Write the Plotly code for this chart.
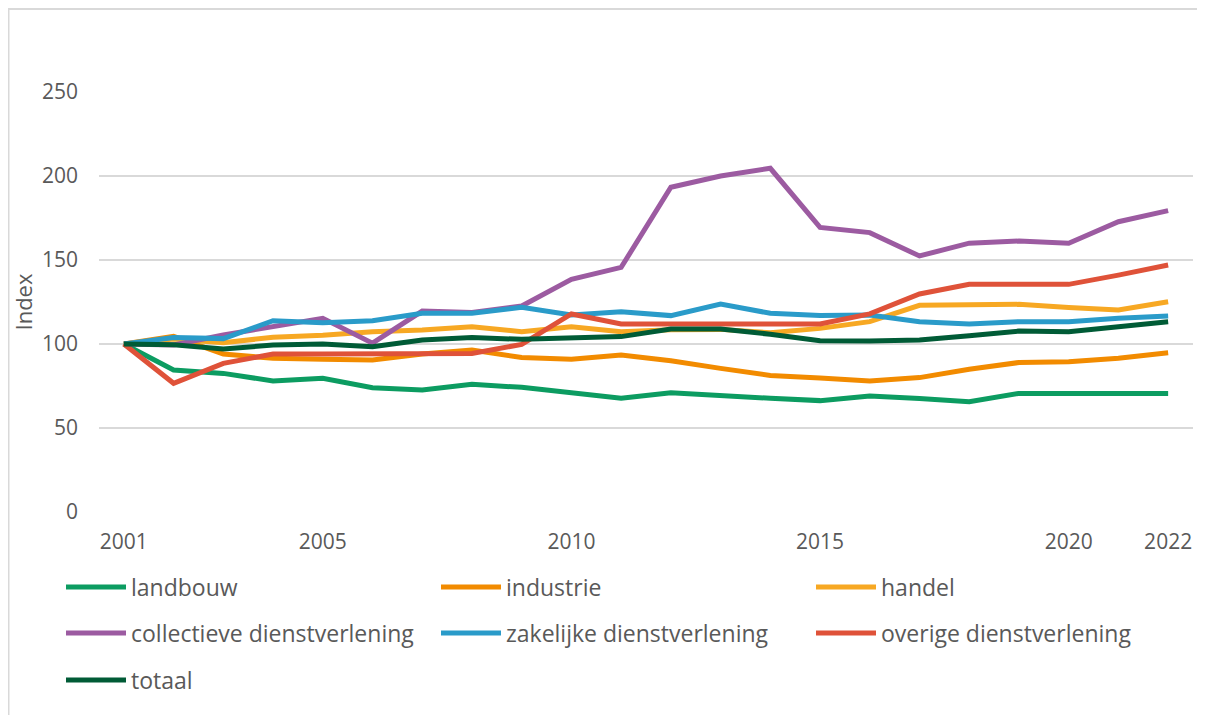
import plotly.graph_objects as go

years = list(range(2001, 2023))

landbouw = [100, 84.5, 82.5, 78.0, 79.6, 74.0, 72.6, 76.0, 74.2, 71.0, 67.7, 71.0,
            69.0, 67.7, 66.3, 69.0, 67.6, 65.7, 70.6, 70.6, 70.6, 70.6]
industrie = [100, 104.5, 94.0, 91.5, 90.9, 90.5, 94.0, 96.4, 92.0, 90.9, 93.5, 90.0,
             85.5, 81.3, 79.8, 78.0, 80.0, 85.0, 89.0, 89.5, 91.5, 94.8]
handel = [100, 103.0, 100.8, 104.0, 105.2, 107.3, 108.3, 110.3, 107.3, 110.3, 107.3, 108.5,
          108.7, 106.7, 109.3, 113.3, 123.0, 123.6, 123.6, 121.8, 120.2, 125.2]
collectieve = [100, 99.4, 105.4, 110.3, 115.3, 100.5, 119.6, 118.7, 122.6, 138.5, 145.6, 193.3,
               200.0, 204.6, 169.4, 166.3, 152.4, 160.0, 161.3, 160.0, 172.8, 179.4]
zakelijke = [100, 103.8, 103.2, 113.9, 112.7, 113.9, 118.3, 118.3, 121.8, 117.3, 119.2, 116.9,
             123.8, 118.3, 116.9, 117.3, 113.3, 111.9, 113.3, 113.3, 115.3, 116.7]
overige = [100, 76.6, 88.5, 94.0, 94.0, 94.0, 94.0, 94.4, 99.8, 117.9, 111.9, 111.9,
           111.9, 111.9, 111.9, 117.9, 129.8, 135.5, 135.5, 135.5, 141.0, 147.0]
totaal = [100, 99.6, 97.0, 99.4, 100.0, 98.4, 102.4, 103.8, 102.8, 103.4, 104.4, 108.9,
          108.9, 105.8, 102.0, 101.8, 102.4, 104.9, 107.7, 107.3, 110.3, 113.3]

series_names = ["landbouw", "industrie", "handel", "collectieve dienstverlening",
                "zakelijke dienstverlening", "overige dienstverlening", "totaal"]
series_values = [landbouw, industrie, handel, collectieve, zakelijke, overige, totaal]
colors = ["#0C9C61", "#F28B00", "#F7A823", "#9C5BA1", "#2A9BC9", "#DF5239", "#005B36"]
legend_ids = ["legend", "legend", "legend", "legend2", "legend2", "legend2", "legend3"]

x_tickvals = [2001, 2005, 2010, 2015, 2020, 2022]
y_tickvals = [0, 50, 100, 150, 200, 250]

FONT = "Open Sans"
TXT = "#595959"

fig = go.Figure()
for name, vals, col, lg in zip(series_names, series_values, colors, legend_ids):
    fig.add_trace(go.Scatter(x=years, y=vals, name=name, mode="lines",
                             line=dict(color=col, width=5),
                             legend=lg))

# page body offset of 8px
OFF = 8
W, H = 1205 - OFF, 715 - OFF
ml, mr, mt, mb = 99 - OFF, 12, 92 - OFF, 203
pw = W - ml - mr
ph = H - mt - mb

def py(ypix):  # screen pixel -> paper
    return (H - mb - (ypix - OFF)) / ph

def px(xpix):
    return ((xpix - OFF) - ml) / pw

legend_common = dict(orientation="h", xanchor="left", yanchor="middle",
                     font=dict(family=FONT, size=23, color=TXT),
                     entrywidth=300, entrywidthmode="pixels", itemwidth=60,
                     bgcolor="rgba(0,0,0,0)", traceorder="normal")

fig.update_layout(
    width=W, height=H,
    margin=dict(l=ml, r=mr, t=mt, b=mb, autoexpand=False),
    paper_bgcolor="white", plot_bgcolor="white",
    font=dict(family=FONT, size=21, color=TXT),
    showlegend=True,
    legend=dict(x=px(61), y=py(587), **legend_common),
    legend2=dict(x=px(61), y=py(633), **legend_common),
    legend3=dict(x=px(61), y=py(680), **legend_common),
    xaxis=dict(range=[2000.5, 2022.5], tickvals=x_tickvals, showgrid=False,
               zeroline=False, showline=False, ticks="", ticklabelstandoff=15,
               tickfont=dict(family=FONT, size=21, color=TXT)),
    yaxis=dict(range=[0, 250], tickvals=y_tickvals, showgrid=True,
               gridcolor="#D9D9D9", gridwidth=1.5, zeroline=False, showline=False,
               ticks="", ticklabelstandoff=20,
               tickfont=dict(family=FONT, size=21, color=TXT),
               title=dict(text="Index", font=dict(family=FONT, size=22, color=TXT),
                          standoff=4)),
    shapes=[dict(type="rect", xref="paper", yref="paper",
                 x0=px(8.5), x1=px(1300), y0=py(800), y1=py(9),
                 line=dict(color="#D9D9D9", width=2), fillcolor="rgba(0,0,0,0)",
                 layer="below")],
)

fig.write_html("out.html")
